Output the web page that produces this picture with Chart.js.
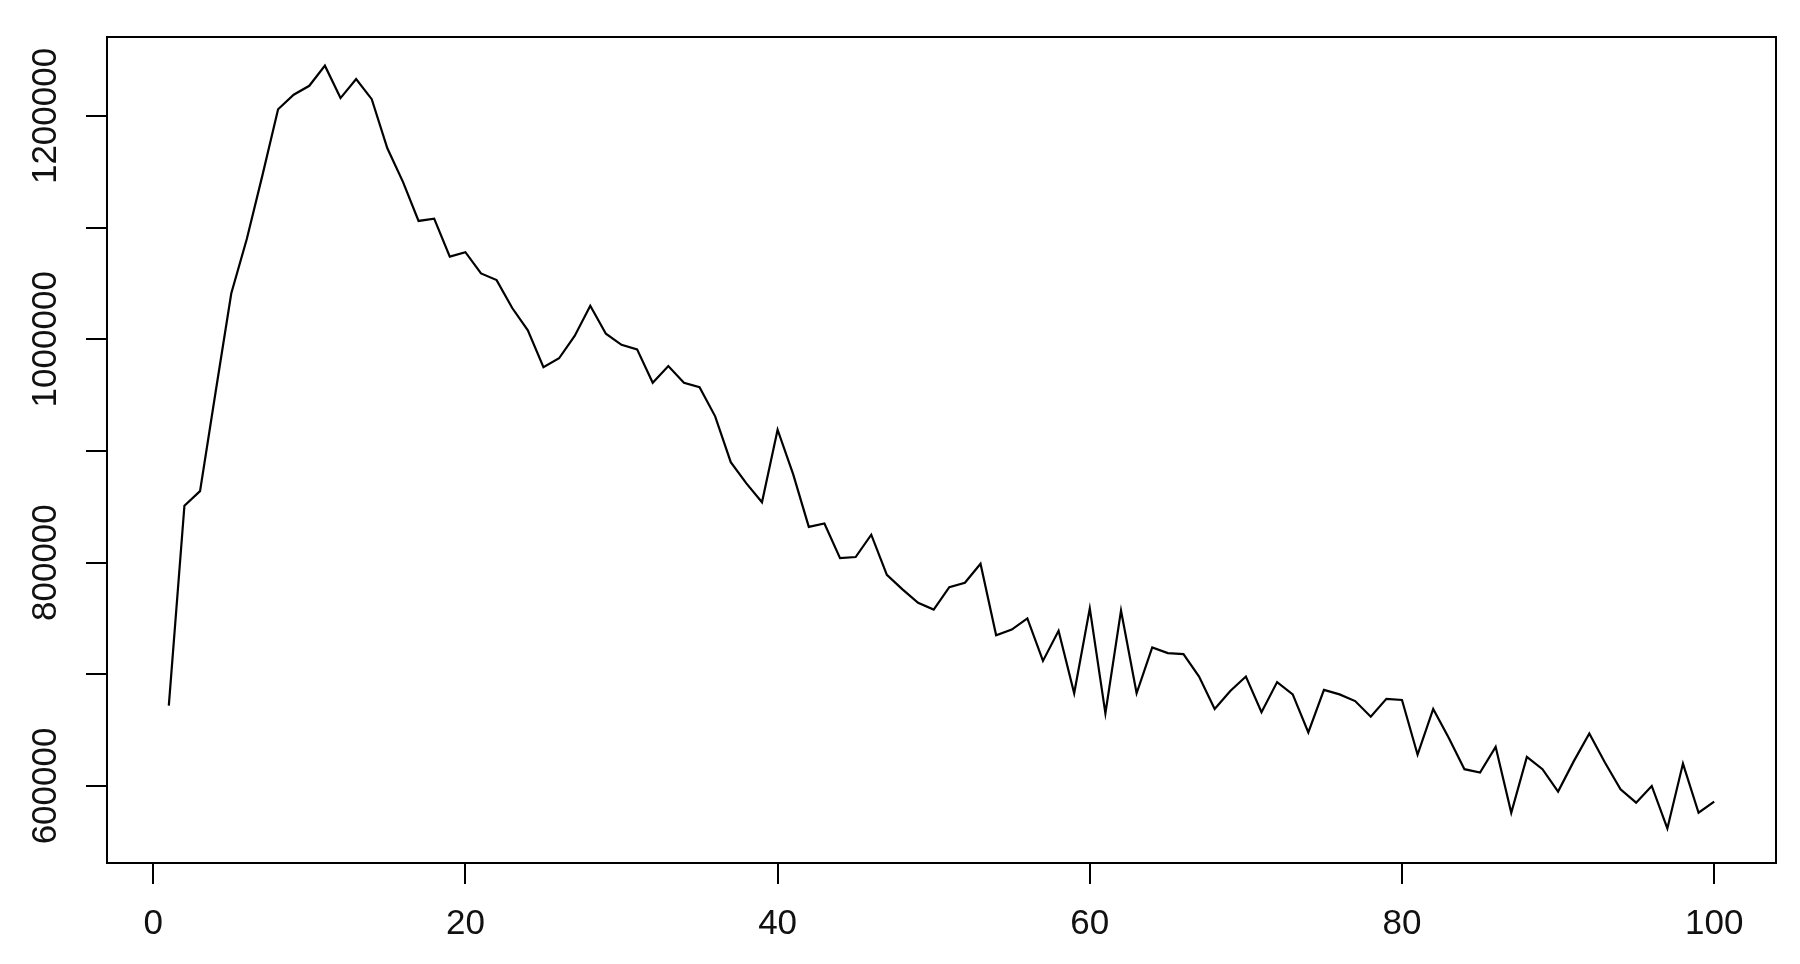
<!DOCTYPE html>
<html>
<head>
<meta charset="utf-8">
<script src="https://cdn.jsdelivr.net/npm/chart.js@4"></script>
<style>
  html, body { margin: 0; padding: 0; background: #fff; }
  #wrap { width: 1800px; height: 964px; }
</style>
</head>
<body>
<div id="wrap"><canvas id="chart" width="1800" height="964"></canvas></div>
<script>
// index 1..100 and the plotted values
const xValues = [];
for (let i = 1; i <= 100; i++) xValues.push(i);

const yValues = [
  672000, 851000, 864000, 953000, 1041000, 1090000, 1147000, 1206000, 1219000, 1227000,
  1245000, 1216000, 1233000, 1215000, 1171000, 1141000, 1106000, 1108000, 1074000, 1078000,
  1059000, 1053000, 1028000, 1008000, 975000, 983000, 1003000, 1030000, 1005000, 995000,
  991000, 961000, 976000, 961000, 957000, 931000, 890000, 871000, 854000, 919000,
  879000, 832000, 835000, 804000, 805000, 825000, 789000, 776000, 764000, 758000,
  778000, 782000, 799000, 735000, 740000, 750000, 712000, 739000, 683000, 759000,
  665000, 757000, 683000, 724000, 719000, 718000, 698000, 669000, 685000, 698000,
  666000, 693000, 682000, 648000, 686000, 682000, 676000, 662000, 678000, 677000,
  628000, 669000, 643000, 615000, 612000, 635000, 576000, 626000, 615000, 595000,
  622000, 647000, 621000, 597000, 585000, 600000, 562000, 620000, 576000, 586000
];

const xTicks = [0, 20, 40, 60, 80, 100];
const yTicks = [600000, 700000, 800000, 900000, 1000000, 1100000, 1200000];
const yLabelled = [600000, 800000, 1000000, 1200000];

const points = xValues.map((x, i) => ({ x: x, y: yValues[i] }));

// R style box around the plot region
const boxPlugin = {
  id: 'box',
  afterDraw(chart) {
    const a = chart.chartArea;
    const ctx = chart.ctx;
    ctx.save();
    ctx.strokeStyle = '#000';
    ctx.lineWidth = 2;
    ctx.strokeRect(a.left, a.top, a.right - a.left, a.bottom - a.top);
    ctx.restore();
  }
};

const tickFont = { family: 'Liberation Sans, Arial, sans-serif', size: 35 };

new Chart(document.getElementById('chart').getContext('2d'), {
  type: 'line',
  data: {
    datasets: [{
      data: points,
      borderColor: '#000',
      borderWidth: 2.2,
      pointRadius: 0,
      tension: 0,
      fill: false
    }]
  },
  options: {
    responsive: false,
    devicePixelRatio: 1,
    animation: false,
    layout: { padding: { top: 37, right: 24, left: 0, bottom: 0 } },
    plugins: { legend: { display: false }, tooltip: { enabled: false } },
    scales: {
      x: {
        type: 'linear',
        min: -2.96,
        max: 103.96,
        afterBuildTicks: s => { s.ticks = xTicks.map(v => ({ value: v })); },
        afterFit: s => { s.height = 101; },
        border: { display: false },
        grid: { drawOnChartArea: false, drawTicks: true, tickLength: 21, color: '#000', lineWidth: 2 },
        ticks: { font: tickFont, color: '#111', padding: 19, maxRotation: 0, autoSkip: false }
      },
      y: {
        type: 'linear',
        min: 531000,
        max: 1270700,
        afterBuildTicks: s => { s.ticks = yTicks.map(v => ({ value: v })); },
        afterFit: s => { s.width = 107; },
        border: { display: false },
        grid: { drawOnChartArea: false, drawTicks: true, tickLength: 21, color: '#000', lineWidth: 2 },
        ticks: {
          font: tickFont,
          color: '#111',
          minRotation: 90,
          maxRotation: 90,
          crossAlign: 'center',
          padding: -28,
          autoSkip: false,
          callback: v => (yLabelled.includes(v) ? String(v) : '')
        }
      }
    }
  },
  plugins: [boxPlugin]
});
</script>
</body>
</html>
